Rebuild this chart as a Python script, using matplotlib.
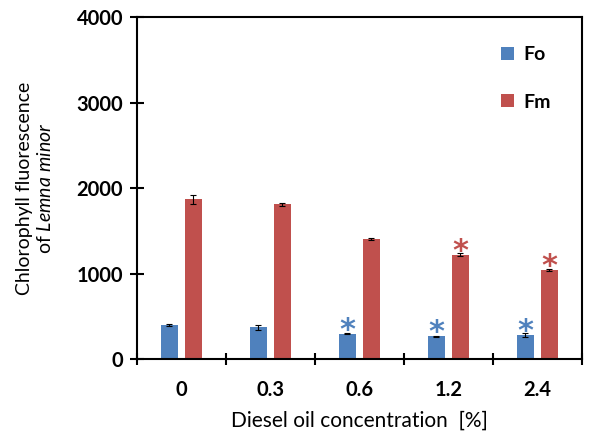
import matplotlib
matplotlib.use("Agg")
import matplotlib.pyplot as plt
import numpy as np

categories = ["0", "0.3", "0.6", "1.2", "2.4"]
fo_values = [395, 372, 295, 265, 280]
fm_values = [1868, 1810, 1400, 1222, 1042]
fo_err = [10, 28, 8, 8, 20]
fm_err = [50, 20, 10, 15, 15]
fo_sig = [False, False, True, True, True]
fm_sig = [False, False, False, True, True]

blue = "#4F81BD"
red = "#C0504D"
plt.rcParams['font.family'] = ['Lato', 'DejaVu Sans']
plt.rcParams['mathtext.fontset'] = 'custom'
plt.rcParams['mathtext.it'] = 'Lato:italic'
plt.rcParams['mathtext.rm'] = 'Lato'

fig = plt.figure(figsize=(5.92, 4.34), dpi=100)
ax = fig.add_axes([0.2314, 0.1728, 0.983 - 0.2314, 0.9608 - 0.1728])

x = np.arange(len(categories))
w = 0.2
off = 0.135
ax.bar(x - off, fo_values, w, color=blue, label="Fo", yerr=fo_err,
       error_kw=dict(ecolor="black", elinewidth=0.8, capsize=2, capthick=0.8))
ax.bar(x + off, fm_values, w, color=red, label="Fm", yerr=fm_err,
       error_kw=dict(ecolor="black", elinewidth=0.8, capsize=2, capthick=0.8))

for i in range(len(categories)):
    if fo_sig[i]:
        ax.annotate("*", (x[i] - off, fo_values[i]), xytext=(0, -8), textcoords="offset points",
                    ha="center", va="bottom", color=blue, fontsize=22, fontweight="bold",
                    fontfamily="DejaVu Sans")
    if fm_sig[i]:
        ax.annotate("*", (x[i] + off, fm_values[i]), xytext=(0, -8), textcoords="offset points",
                    ha="center", va="bottom", color=red, fontsize=22, fontweight="bold",
                    fontfamily="DejaVu Sans")

ax.set_xlim(-0.5, len(categories) - 0.5)
ax.set_ylim(0, 4000)
ax.set_yticks([0, 1000, 2000, 3000, 4000])
ax.set_xticks(x)
ax.set_xticklabels(categories, fontsize=14.5, fontweight="bold")
ax.set_xticks(np.arange(len(categories) + 1) - 0.5, minor=True)
ax.tick_params(axis="x", which="major", length=0, pad=15)
ax.tick_params(axis="x", which="minor", direction="inout", length=8, width=1.5)
ax.tick_params(axis="y", direction="inout", length=10, width=1.5, pad=5, labelsize=14.5)
for lab in ax.get_yticklabels():
    lab.set_fontweight("bold")
for s in ax.spines.values():
    s.set_linewidth(1.5)

ax.set_xlabel("Diesel oil concentration  [%]", fontsize=15, labelpad=8)
ax.set_ylabel("Chlorophyll fluorescence\nof $\\it{Lemna\\ minor}$", fontsize=14, labelpad=16)

leg = ax.legend(loc="upper right", bbox_to_anchor=(0.97, 0.965), frameon=False,
                handlelength=0.65, handleheight=0.65, handletextpad=0.5, labelspacing=1.55,
                prop=dict(size=14, weight="bold"))

fig.savefig("out.png", dpi=100)
